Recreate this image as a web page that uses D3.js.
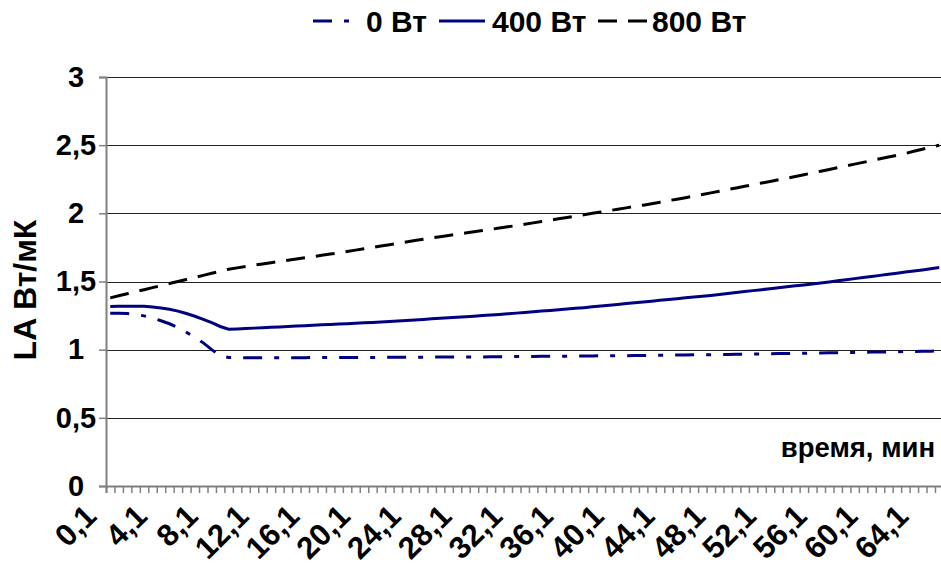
<!DOCTYPE html>
<html>
<head>
<meta charset="utf-8">
<script src="https://cdn.jsdelivr.net/npm/d3@7"></script>
<style>
  body { margin: 0; background: #fff; }
  text { font-family: "Liberation Sans", Arial, sans-serif; font-weight: bold; }
</style>
</head>
<body>
<svg id="chart"></svg>
<script>
// time, min (every 40 s)
var times = [
  0.1, 0.8, 1.4, 2.1, 2.8, 3.4, 4.1, 4.8, 5.4, 6.1, 6.8, 7.4, 8.1, 8.8, 9.4, 10.1, 10.8, 11.4,
  12.1, 12.8, 13.4, 14.1, 14.8, 15.4, 16.1, 16.8, 17.4, 18.1, 18.8, 19.4, 20.1, 20.8, 21.4,
  22.1, 22.8, 23.4, 24.1, 24.8, 25.4, 26.1, 26.8, 27.4, 28.1, 28.8, 29.4, 30.1, 30.8, 31.4,
  32.1, 32.8, 33.4, 34.1, 34.8, 35.4, 36.1, 36.8, 37.4, 38.1, 38.8, 39.4, 40.1, 40.8, 41.4,
  42.1, 42.8, 43.4, 44.1, 44.8, 45.4, 46.1, 46.8, 47.4, 48.1, 48.8, 49.4, 50.1, 50.8, 51.4,
  52.1, 52.8, 53.4, 54.1, 54.8, 55.4, 56.1, 56.8, 57.4, 58.1, 58.8, 59.4, 60.1, 60.8, 61.4,
  62.1, 62.8, 63.4, 64.1, 64.8, 65.4
]
var labelTimes = [0.1, 4.1, 8.1, 12.1, 16.1, 20.1, 24.1, 28.1, 32.1, 36.1, 40.1, 44.1, 48.1, 52.1, 56.1, 60.1, 64.1]
var yTicks = [0, 0.5, 1, 1.5, 2, 2.5, 3]

var seriesNames = ["0 Вт", "400 Вт", "800 Вт"]

var la0 = [
  1.268, 1.268, 1.266, 1.258, 1.248, 1.232, 1.212, 1.19, 1.163, 1.128, 1.09, 1.05, 1.0, 0.955,
  0.942, 0.941, 0.941, 0.940, 0.940, 0.940, 0.941, 0.941, 0.941, 0.941, 0.942, 0.942, 0.942,
  0.942, 0.942, 0.943, 0.943, 0.943, 0.943, 0.944, 0.944, 0.944, 0.945, 0.945, 0.945, 0.946,
  0.946, 0.946, 0.947, 0.947, 0.947, 0.948, 0.948, 0.949, 0.949, 0.950, 0.950, 0.951, 0.951,
  0.952, 0.952, 0.953, 0.953, 0.954, 0.955, 0.955, 0.956, 0.956, 0.957, 0.958, 0.958, 0.959,
  0.96, 0.96, 0.961, 0.962, 0.963, 0.963, 0.964, 0.965, 0.966, 0.967, 0.968, 0.969, 0.97,
  0.971, 0.972, 0.973, 0.974, 0.975, 0.976, 0.977, 0.978, 0.979, 0.98, 0.981, 0.982, 0.983,
  0.984, 0.985, 0.986, 0.987, 0.988, 0.989, 0.99
]
var la400 = [
  1.317, 1.318, 1.319, 1.319, 1.318, 1.313, 1.306, 1.296, 1.283, 1.265, 1.245, 1.222, 1.198,
  1.17, 1.15, 1.152, 1.155, 1.158, 1.161, 1.164, 1.167, 1.170, 1.173, 1.176, 1.179, 1.182,
  1.185, 1.188, 1.191, 1.194, 1.197, 1.200, 1.203, 1.206, 1.210, 1.214, 1.218, 1.222, 1.226,
  1.23, 1.234, 1.238, 1.242, 1.246, 1.25, 1.254, 1.258, 1.263, 1.268, 1.273, 1.278, 1.283,
  1.288, 1.293, 1.298, 1.303, 1.308, 1.314, 1.32, 1.326, 1.332, 1.338, 1.344, 1.35, 1.356,
  1.362, 1.368, 1.374, 1.38, 1.386, 1.392, 1.398, 1.405, 1.412, 1.419, 1.426, 1.433, 1.44,
  1.447, 1.454, 1.461, 1.468, 1.475, 1.482, 1.489, 1.497, 1.505, 1.513, 1.521, 1.529, 1.537,
  1.545, 1.553, 1.561, 1.569, 1.577, 1.585, 1.594, 1.603
]
var la800 = [
  1.38, 1.395, 1.41, 1.425, 1.44, 1.455, 1.47, 1.485, 1.50, 1.515, 1.53, 1.545, 1.56, 1.575,
  1.59, 1.60, 1.61, 1.62, 1.629, 1.638, 1.647, 1.656, 1.665, 1.674, 1.683, 1.692, 1.701, 1.71,
  1.72, 1.73, 1.74, 1.75, 1.76, 1.77, 1.78, 1.79, 1.80, 1.81, 1.82, 1.829, 1.838, 1.847, 1.856,
  1.865, 1.874, 1.883, 1.892, 1.901, 1.91, 1.92, 1.93, 1.94, 1.95, 1.96, 1.97, 1.98, 1.99,
  2.00, 2.01, 2.02, 2.03, 2.04, 2.05, 2.06, 2.071, 2.082, 2.093, 2.104, 2.115, 2.126, 2.138,
  2.15, 2.162, 2.174, 2.186, 2.198, 2.21, 2.222, 2.234, 2.246, 2.258, 2.27, 2.283, 2.296,
  2.309, 2.322, 2.335, 2.348, 2.361, 2.374, 2.387, 2.40, 2.413, 2.426, 2.439, 2.455, 2.47,
  2.485, 2.50
]

var dimensions = {
    width: 941,
    height: 567,
    margin: { top: 77, bottom: 81, left: 106, right: -2 }
}
var step = 8.459
dimensions.boundedWidth = step * times.length
dimensions.boundedHeight = dimensions.height - dimensions.margin.top - dimensions.margin.bottom

var svg = d3.select("#chart")
    .attr("width", dimensions.width)
    .attr("height", dimensions.height)

var g = svg.append("g")
    .attr("transform", "translate(" + dimensions.margin.left + "," + dimensions.margin.top + ")")

var xScale = d3.scaleBand()
    .domain(times)
    .range([0, dimensions.boundedWidth])

// category boundaries for the tick marks
var xEdges = d3.scaleLinear()
    .domain([0, times.length])
    .range([0, dimensions.boundedWidth])

var yScale = d3.scaleLinear()
    .domain([0, 3])
    .range([dimensions.boundedHeight, 0])

var comma = d => String(d).replace(".", ",")

// gridlines
g.append("g")
    .selectAll("line")
    .data(yTicks.filter(d => d > 0))
    .enter()
    .append("line")
    .attr("x1", 0)
    .attr("x2", dimensions.boundedWidth)
    .attr("y1", d => Math.round(yScale(d)) + 0.5)
    .attr("y2", d => Math.round(yScale(d)) + 0.5)
    .attr("stroke", "#222")
    .attr("stroke-width", 1)

// y axis
var yAxis = g.append("g")
    .call(d3.axisLeft(yScale).tickValues(yTicks).tickSize(7).tickFormat(comma))
yAxis.select(".domain").attr("stroke", "#808080").attr("stroke-width", 2)
yAxis.selectAll(".tick line").attr("stroke", "#808080").attr("stroke-width", 1.5)
yAxis.selectAll("text")
    .attr("fill", "#000")
    .attr("x", -30)
    .attr("text-anchor", "middle")
    .style("font-size", "29px")

// x axis tick marks
var xAxis = g.append("g")
    .attr("transform", "translate(0," + dimensions.boundedHeight + ")")
    .call(d3.axisBottom(xEdges).tickValues(d3.range(0, times.length + 1)).tickSize(7).tickFormat(""))
xAxis.select(".domain").attr("stroke", "#808080").attr("stroke-width", 2)
xAxis.selectAll(".tick line").attr("stroke", "#808080").attr("stroke-width", 1.5)

// x labels (every 4 min)
g.append("g")
    .selectAll("text")
    .data(labelTimes)
    .enter()
    .append("text")
    .attr("transform", d => "translate(" + (xScale(d) + xScale.bandwidth() / 2 - 12) + "," + (dimensions.boundedHeight + 32) + ") rotate(-45)")
    .style("text-anchor", "end")
    .style("font-size", "31px")
    .text(comma)

// axis titles
svg.append("text")
    .attr("transform", "rotate(-90)")
    .attr("x", -290)
    .attr("y", 36)
    .style("text-anchor", "middle")
    .style("font-size", "32px")
    .text("LA Вт/мК")

svg.append("text")
    .attr("x", 935)
    .attr("y", 457)
    .style("text-anchor", "end")
    .style("font-size", "27.5px")
    .text("время, мин")

// series
var lineStyles = [
    { data: la0, color: "#000080", dash: "19,12,5,12" },
    { data: la400, color: "#000080", dash: null },
    { data: la800, color: "#000000", dash: "19,11" }
]

var line = d3.line()
    .x((d, i) => xScale(times[i]) + xScale.bandwidth() / 2)
    .y(d => yScale(d))

lineStyles.forEach(function (s) {
    g.append("path")
        .datum(s.data)
        .attr("fill", "none")
        .attr("stroke", s.color)
        .attr("stroke-width", 3)
        .attr("stroke-dasharray", s.dash)
        .attr("d", line)
})

// legend
var legendItems = [
    { x1: 313, x2: 350, tx: 366, name: seriesNames[0], s: lineStyles[0] },
    { x1: 439, x2: 485, tx: 492, name: seriesNames[1], s: lineStyles[1] },
    { x1: 598, x2: 647, tx: 652, name: seriesNames[2], s: lineStyles[2] }
]
var legend = svg.append("g")
legend.selectAll("line")
    .data(legendItems)
    .enter()
    .append("line")
    .attr("x1", d => d.x1)
    .attr("x2", d => d.x2)
    .attr("y1", 21)
    .attr("y2", 21)
    .attr("stroke", d => d.s.color)
    .attr("stroke-width", 3)
    .attr("stroke-dasharray", d => d.s.dash)
legend.selectAll("text")
    .data(legendItems)
    .enter()
    .append("text")
    .attr("x", d => d.tx)
    .attr("y", 32)
    .style("font-size", "30px")
    .text(d => d.name)
</script>
</body>
</html>
